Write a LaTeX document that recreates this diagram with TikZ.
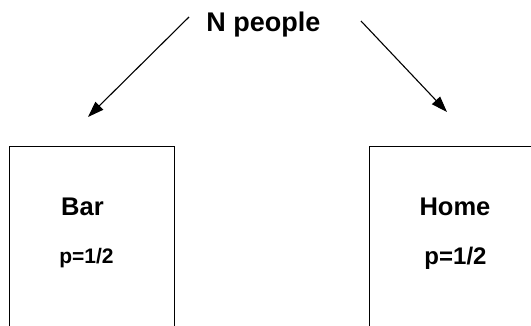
\documentclass[tikz,border=0pt]{standalone}
\usepackage{fontspec}
\setmainfont{Liberation Sans}
\usetikzlibrary{arrows.meta}

\begin{document}
\begin{tikzpicture}[x=1pt,y=-1pt,
		room/.style={draw, line width=0.9pt, minimum width=165pt, minimum height=180pt, inner sep=0pt},
		word/.style={anchor=base, inner sep=0pt, font=\bfseries},
		walk/.style={-{Triangle[length=16pt,width=11pt]}, line width=1.1pt}]
					\useasboundingbox (0,0) rectangle (531,326);

					\node [room] (bar) at (91.5,236) {};
					\node [room] (home) at (451.5,236) {};

					\node [word] (people) at (263.5,32) {\fontsize{27}{30}\selectfont N people};
					\node [word] (barname) at (82.5,216) {\fontsize{25.5}{30}\selectfont Bar};
					\node [word] (barprob) at (86.5,264) {\fontsize{21}{24}\selectfont p=1/2};
					\node [word] (homename) at (455,216) {\fontsize{25.5}{30}\selectfont Home};
					\node [word] (homeprob) at (455.5,265) {\fontsize{24}{28}\selectfont p=1/2};

					\coordinate (tobarstart) at (189,17);
					\coordinate (tobarend) at (88,117);
					\coordinate (tohomestart) at (361,21);
					\coordinate (tohomeend) at (447,112);

					\draw [walk] (tobarstart) -- (tobarend);
					\draw [walk] (tohomestart) -- (tohomeend);
				\end{tikzpicture}
\end{document}
